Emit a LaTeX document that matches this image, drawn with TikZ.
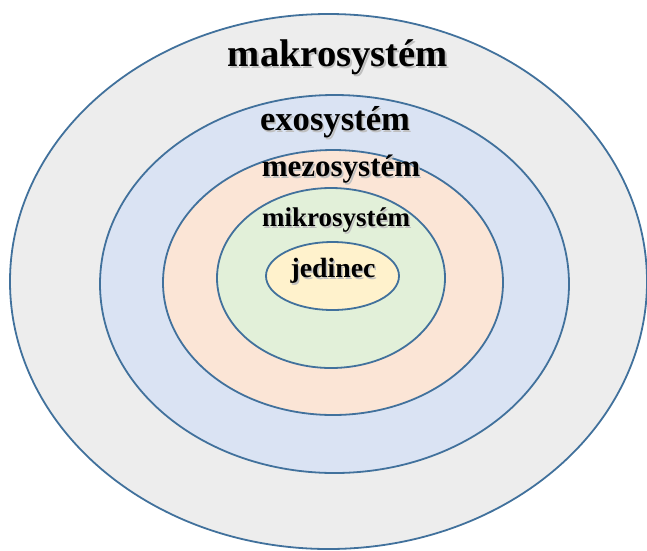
\documentclass[tikz,border=0pt]{standalone}
\usepackage{fontspec}
\setmainfont{Liberation Serif}
\usetikzlibrary{positioning,shapes.geometric}
\definecolor{ringline}{HTML}{41719C}
\definecolor{makrofill}{HTML}{EDEDED}
\definecolor{exofill}{HTML}{DAE3F3}
\definecolor{mezofill}{HTML}{FBE5D6}
\definecolor{mikrofill}{HTML}{E2F0D9}
\definecolor{jedfill}{HTML}{FFF2CC}
\newcommand\shadowtxt[1]{\makebox[0pt][l]{\hspace{1.6pt}\raisebox{-1.6pt}{\color{black!25}#1}}#1}
\begin{document}
\begin{tikzpicture}[x=1pt,y=-1pt,
  ring/.style={ellipse,draw=ringline,line width=1.8pt,inner sep=0pt},
  lbl/.style={font=\bfseries,text=black,inner sep=0pt}]
\useasboundingbox (0,0) rectangle (647,550);
\path node[ring,fill=makrofill,minimum width=637pt,minimum height=535pt] (makro) at (328.5,281.5) {}
  node[ring,fill=exofill,minimum width=469pt,minimum height=378pt] (exo) at (334.5,284) {}
  node[ring,fill=mezofill,minimum width=340pt,minimum height=265pt] (mezo) at (333,282.5) {}
  node[ring,fill=mikrofill,minimum width=228pt,minimum height=180pt] (mikro) at (331,278) {}
  node[ring,fill=jedfill,minimum width=133pt,minimum height=68pt] (jedinec) at (332.5,276) {};
% popisky vrstev
\path node[lbl,font=\fontsize{38.6}{40}\bfseries] (makrotxt) at (338,58) {\shadowtxt{makrosystém}}
  node[lbl,font=\fontsize{34.6}{36}\bfseries] (exotxt) at (335,123) {\shadowtxt{exosystém}}
  node[lbl,font=\fontsize{31}{33}\bfseries] (mezotxt) at (341,170) {\shadowtxt{mezosystém}}
  node[lbl,font=\fontsize{27}{29}\bfseries] (mikrotxt) at (336,221) {\shadowtxt{mikrosystém}}
  node[lbl,font=\fontsize{27.8}{29}\bfseries] (jedtxt) at (333,272) {\shadowtxt{jedinec}};
\end{tikzpicture}
\end{document}
